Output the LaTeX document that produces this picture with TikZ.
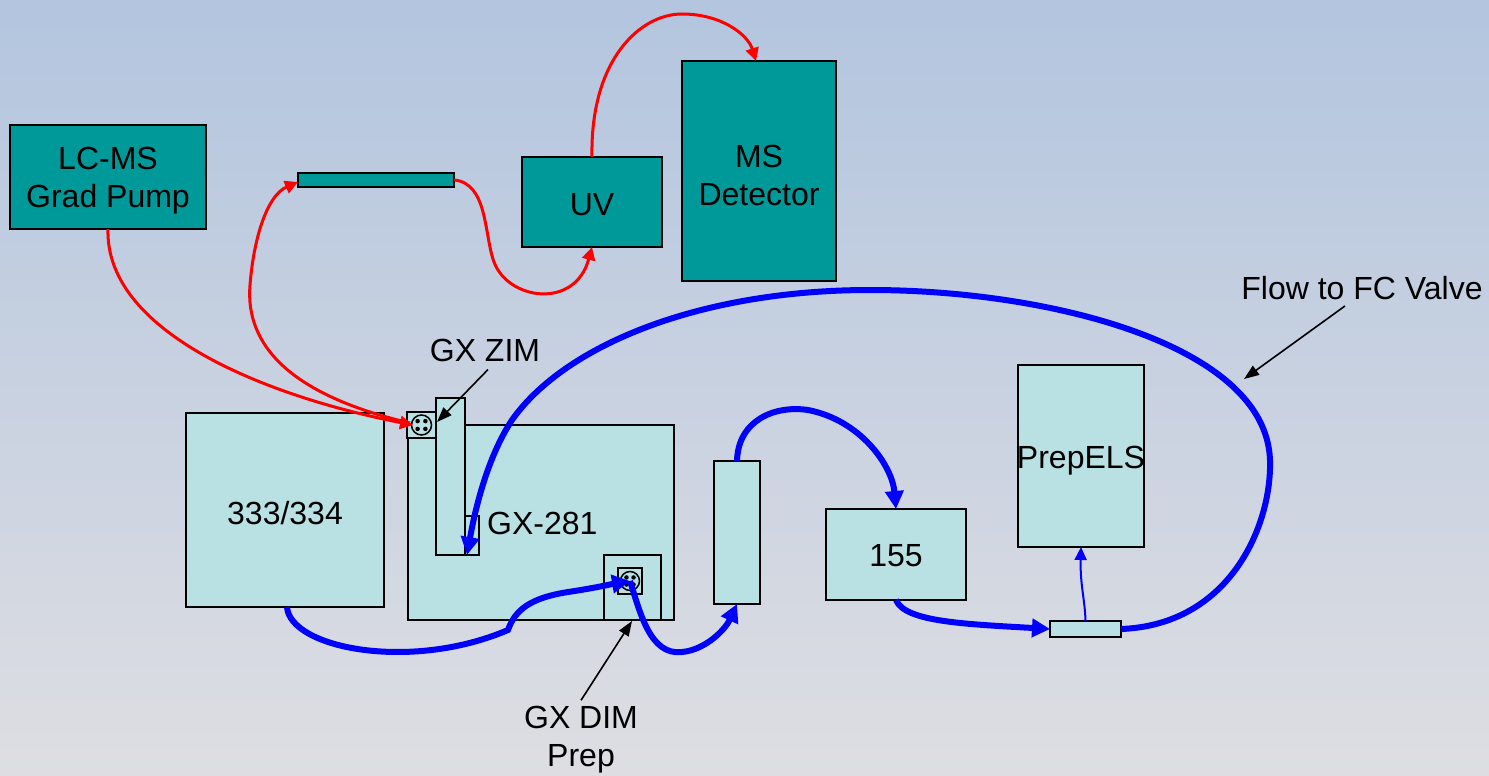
\documentclass[tikz,border=0pt]{standalone}
\usepackage{fontspec}
\setmainfont{Liberation Sans}
\usetikzlibrary{arrows.meta,calc}
\definecolor{bgtop}{HTML}{B3C5DF}
\definecolor{bgbot}{HTML}{DEDEE2}
\definecolor{tealbox}{HTML}{009999}
\definecolor{lightbox}{HTML}{B9E0E3}
\tikzset{
  box/.style={draw=black, line width=1.5pt, inner sep=0pt, outer sep=0pt, font=\fontsize{32}{38}\selectfont, align=center},
  tbox/.style={box, fill=tealbox},
  lbox/.style={box, fill=lightbox},
  lbl/.style={font=\fontsize{32}{38}\selectfont, align=center, inner sep=2pt},
  redflow/.style={draw=red, line width=3pt, -{Triangle[length=13pt,width=13pt]}},
  blueflow/.style={draw=blue, line width=6pt, -{Triangle[length=18pt,width=18pt]}},
  thinblue/.style={draw=blue, line width=2pt, -{Triangle[length=13pt,width=12pt]}},
  pointer/.style={draw=black, line width=1.6pt, -{Triangle[length=15pt,width=11pt]}},
  dot/.style={fill=black, circle, inner sep=0pt, minimum size=4.5pt}
}
\begin{document}
\begin{tikzpicture}[x=1pt,y=-1pt]
\shade[top color=bgtop, bottom color=bgbot] (0,0) rectangle (1489,776);
\useasboundingbox (0,0) rectangle (1489,776);

% teal boxes
\node[tbox, minimum width=196pt, minimum height=104pt] (pump) at (108,177) {};
\node[lbl] at (108,181) {LC-MS\\Grad Pump};
\node[tbox, minimum width=156pt, minimum height=14pt] (col) at (376,180) {};
\node[tbox, minimum width=140pt, minimum height=90pt] (uv) at (592,202) {};
\node[lbl] at (592,205) {UV};
\node[tbox, minimum width=154pt, minimum height=220pt] (ms) at (759,171) {};
\node[lbl] at (759,175) {MS\\Detector};

% light boxes
\node[lbox, minimum width=198pt, minimum height=194pt] (s333) at (285,510) {};
\node[lbl] at (285,513) {333/334};
\node[lbox, minimum width=266pt, minimum height=195pt] (gx) at (541,522.5) {};
\node[lbl, anchor=west, inner sep=0pt] (gxlbl) at (487,523) {GX-281};
\node[lbox, minimum width=29pt, minimum height=157pt] (zarm) at (450.5,476.5) {};
\node[lbox, minimum width=14pt, minimum height=39pt] (zs) at (472,535.5) {};
\node[lbox, minimum width=29pt, minimum height=26pt] (zv) at (421.5,425) {};
\draw[line width=1.5pt] (zv.center) circle (10pt);
\foreach \a in {45,135,225,315} \node[dot] at ($(zv.center)+(\a:5.5pt)$) {};
\node[lbox, minimum width=57pt, minimum height=65pt] (dout) at (632.5,587.5) {};
\node[lbox, minimum width=24pt, minimum height=26pt] (din) at (630,581) {};
\draw[line width=1.5pt] (din.center) circle (9.5pt);
\foreach \a in {45,135,225,315} \node[dot] at ($(din.center)+(\a:5pt)$) {};
\node[lbox, minimum width=46pt, minimum height=143pt] (col2) at (737,532.5) {};
\node[lbox, minimum width=140pt, minimum height=91pt] (n155) at (896,554.5) {};
\node[lbl] at (896,556) {155};
\node[lbox, minimum width=126pt, minimum height=182pt] (prep) at (1081,456) {};
\node[lbl] at (1081,461) {PrepELS};
\node[lbox, minimum width=71pt, minimum height=16pt] (split) at (1085.5,629) {};

% labels
\node[lbl] (zimlbl) at (485,350) {GX ZIM};
\node[lbl] (dimlbl) at (581,740) {GX DIM\\Prep};
\node[lbl] (fclbl) at (1362,288) {Flow to FC Valve};

% red flows
\draw[redflow] (pump.south) .. controls (105,330) and (260,395) .. ([xshift=6pt]zv.west);
\draw[redflow] ([xshift=3pt,yshift=2pt]zv.west) .. controls (290,395) and (245,345) .. (250,285) .. controls (254,235) and (268,195) .. ([yshift=-2pt]col.west);
\draw[redflow] (col.east) .. controls (488,183) and (484,235) .. (494,262) .. controls (508,300) and (575,310) .. (uv.south);
\draw[redflow] (uv.north) .. controls (590,60) and (640,14) .. (682,14) .. controls (722,14) and (748,35) .. ([xshift=-3pt]ms.north);

% blue flows
\draw[blueflow] ([xshift=2pt]s333.south) .. controls (290,648) and (410,672) .. (508,630) .. controls (515,610) and (530,598) .. (568,592) .. controls (595,588) and (612,584) .. (din.center);
\draw[blueflow] (din.center) .. controls (640,612) and (650,656) .. (682,652) .. controls (705,650) and (725,630) .. (col2.south);
\draw[blueflow] (col2.north) .. controls (738,420) and (775,405) .. (808,410) .. controls (860,420) and (892,465) .. (n155.north);
\draw[blueflow] (n155.south) .. controls (905,622) and (965,624) .. (split.west);
\draw[blueflow] (split.east) .. controls (1230,625) and (1272,525) .. (1270,460) .. controls (1266,345) and (1050,290) .. (870,290) .. controls (700,290) and (565,345) .. (512,420) .. controls (487,458) and (475,510) .. ([xshift=2pt]zs.south west);
\draw[thinblue] (split.north) .. controls (1085,600) and (1080,585) .. (prep.south);

% pointers
\coordinate (zimtip) at (437,422);
\coordinate (dimtip) at (632,621);
\coordinate (fctip) at (1244,379);
\draw[pointer] ([xshift=3pt,yshift=-6pt]zimlbl.south) -- (zimtip);
\draw[pointer] ([yshift=4pt]dimlbl.north) -- (dimtip);
\draw[pointer] ([xshift=-17pt,yshift=-4pt]fclbl.south) -- (fctip);
\end{tikzpicture}
\end{document}
